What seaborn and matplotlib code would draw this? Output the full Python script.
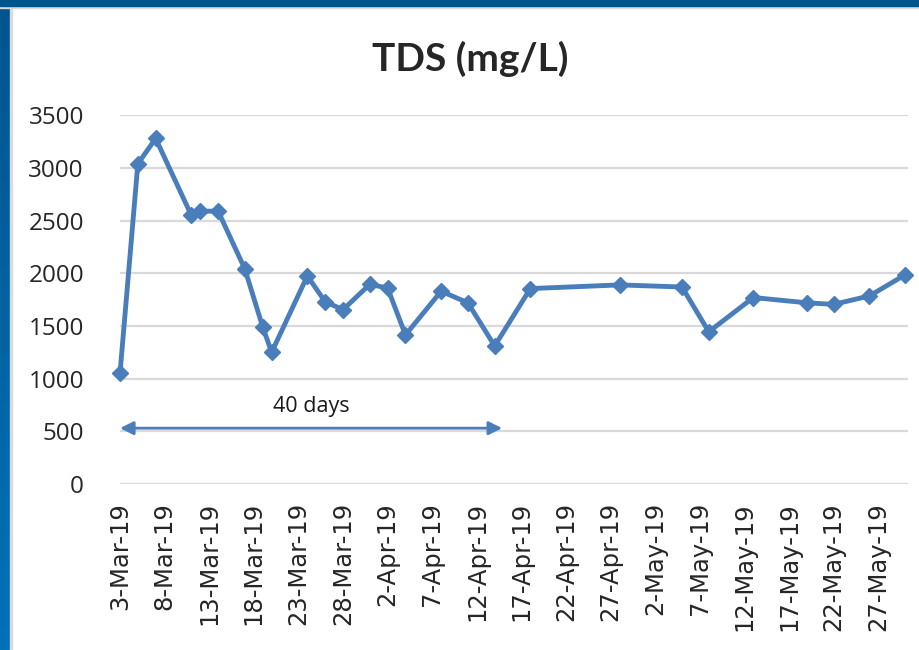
import numpy as np
import pandas as pd
import matplotlib
matplotlib.use("Agg")
import matplotlib.pyplot as plt
from matplotlib.patches import Rectangle
import seaborn as sns

# TDS readings
dates = ["2019-03-03", "2019-03-05", "2019-03-07", "2019-03-11", "2019-03-12",
         "2019-03-14", "2019-03-17", "2019-03-19", "2019-03-20", "2019-03-24",
         "2019-03-26", "2019-03-28", "2019-03-31", "2019-04-02", "2019-04-04",
         "2019-04-08", "2019-04-11", "2019-04-14", "2019-04-18", "2019-04-28",
         "2019-05-05", "2019-05-08", "2019-05-13", "2019-05-19", "2019-05-22",
         "2019-05-26", "2019-05-30"]
tds = [1050, 3040, 3280, 2550, 2590,
       2590, 2040, 1490, 1250, 1975,
       1730, 1655, 1895, 1860, 1415,
       1830, 1720, 1310, 1855, 1890,
       1870, 1445, 1770, 1720, 1705,
       1785, 1985]

tick_dates = pd.date_range("2019-03-03", "2019-05-27", freq="5D")
tick_labels = [f"{d.day}-{d.strftime('%b-%y')}" for d in tick_dates]
y_ticks = [0, 500, 1000, 1500, 2000, 2500, 3000, 3500]

span_start = "2019-03-03"
span_end = "2019-04-14 20:00"
span_label = "40 days"

df = pd.DataFrame({"date": pd.to_datetime(dates), "tds": tds})

sns.set_style("white")
plt.rcParams["font.family"] = ["Open Sans", "DejaVu Sans"]

blue = "#4A7EBB"

fig = plt.figure(figsize=(9.2, 6.5), dpi=100)
ax = fig.add_axes([120 / 920, 1 - 484 / 650, (908 - 120) / 920, (484 - 115.3) / 650])

sns.lineplot(data=df, x="date", y="tds", ax=ax, color=blue, linewidth=3.5,
             marker="D", markersize=8.5, markeredgecolor=blue, markeredgewidth=1,
             clip_on=False)

ax.set_ylim(0, 3500)
ax.set_yticks(y_ticks)
ax.set_xlim(pd.Timestamp("2019-03-03"), pd.Timestamp("2019-05-30 08:00"))
ax.set_xticks(tick_dates, labels=tick_labels)
ax.grid(axis="y", color="#D9D9D9", linewidth=1.6)
ax.set_axisbelow(True)
for s in ax.spines.values():
    s.set_visible(False)
ax.tick_params(axis="both", length=0)
ax.tick_params(axis="y", labelsize=17.5, pad=26)
ax.tick_params(axis="x", labelsize=17.5, pad=13, labelrotation=90)
for lab in ax.get_xticklabels():
    lab.set_fontfamily("DejaVu Sans")
ax.set_xlabel("")
ax.set_ylabel("")

# "40 days" span marker
ax.annotate("", xy=(pd.Timestamp(span_end), 530), xytext=(pd.Timestamp(span_start), 530),
            arrowprops=dict(arrowstyle="<|-|>", color=blue, lw=2, mutation_scale=20,
                            shrinkA=0, shrinkB=0))
ax.text(pd.Timestamp("2019-03-24 12:00"), 740, span_label, ha="center", va="center",
        fontsize=15.5, color="#1a1a1a")

fig.text(0.511, 0.91, "TDS (mg/L)", ha="center", va="center", fontsize=28,
         fontweight="bold", family=["Lato", "DejaVu Sans"])

# slide frame: dark blue top strip and gradient left strip
fig.patches.append(Rectangle((0, 1 - 6 / 650), 1, 6 / 650, transform=fig.transFigure,
                             color="#00558E", zorder=5))
fig.patches.append(Rectangle((0, 1 - 8 / 650), 1, 2 / 650, transform=fig.transFigure,
                             color="#DADADA", zorder=4))
fig.patches.append(Rectangle((10 / 920, 0), 2 / 920, 1, transform=fig.transFigure,
                             color="#DADADA", zorder=4))
side = fig.add_axes([0, 0, 10 / 920, 1])
grad = np.linspace(0, 1, 256).reshape(-1, 1)
cmap = matplotlib.colors.LinearSegmentedColormap.from_list("edge", ["#00558E", "#0072B8"])
side.imshow(grad, aspect="auto", cmap=cmap, extent=[0, 1, 0, 1])
side.set_axis_off()

fig.savefig("out.png", dpi=100)
